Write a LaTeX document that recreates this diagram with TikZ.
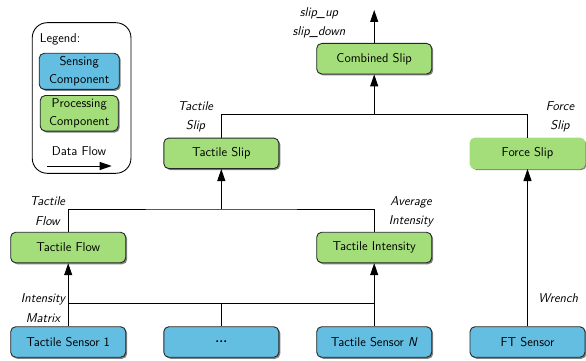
\documentclass[tikz,border=0pt]{standalone}
\usetikzlibrary{arrows.meta,shadows}
\renewcommand{\familydefault}{\sfdefault}
\definecolor{sensblue}{RGB}{99,190,226}
\definecolor{procgreen}{RGB}{164,222,122}
\begin{document}
\begin{tikzpicture}[x=1pt,y=-1pt,
  font=\fontsize{12.8}{14}\selectfont,
  line width=0.9pt,
  box/.style={rounded corners=5pt, minimum width=115pt, minimum height=30.5pt,
    draw=black!85, line width=0.9pt, align=center,
    drop shadow={shadow xshift=1.5pt, shadow yshift=-1.5pt, fill=black!70, opacity=0.7}},
  sens/.style={box, fill=sensblue},
  proc/.style={box, fill=procgreen},
  lbl/.style={font=\fontsize{12.8}{19.5}\selectfont\itshape, align=center},
  flow/.style={-{Triangle[length=12pt,width=8pt]}}]
\useasboundingbox (0,0) rectangle (586,361);

% legend
\node[draw, rounded corners=15pt, line width=0.9pt, minimum width=98.7pt, minimum height=150.6pt] (legend) at (81.6,98) {};
\node[anchor=west] (legtitle) at (36,39) {Legend:};
\node[sens, minimum width=80pt, minimum height=36pt, font=\fontsize{12.8}{17.5}\selectfont] (lsens) at (79.2,71.3) {Sensing\\Component};
\node[proc, minimum width=78pt, minimum height=35pt, font=\fontsize{12.8}{17.5}\selectfont] (lproc) at (79.2,113.3) {Processing\\Component};
\node (ldf) at (79,151) {Data Flow};
\coordinate (la) at (47.3,166);
\coordinate (lb) at (111.7,166);
\draw[flow] (la) -- (lb);

% components
\node[proc] (comb) at (374.2,58.7) {Combined Slip};
\node[proc] (tslip) at (221.3,153.3) {Tactile Slip};
\node[proc, draw=procgreen] (fslip) at (527.5,153.3) {Force Slip};
\node[proc] (tflow) at (68.2,247.5) {Tactile Flow};
\node[proc] (tint) at (374.2,247.5) {Tactile Intensity};
\node[sens] (ts1) at (68.2,342) {Tactile Sensor 1};
\node[sens] (tsd) at (221.3,342) {\textbf{...}};
\node[sens] (tsn) at (374.2,342) {Tactile Sensor \textit{N}};
\node[sens] (ft) at (527.5,342) {FT Sensor};

% connectors
\coordinate (out) at (374.2,10);
\coordinate (j1) at (374.2,114.3);
\coordinate (j2) at (221.3,209);
\coordinate (j3l) at (68.2,303);
\coordinate (j3r) at (374.2,303);

\draw[flow] (comb.north) -- (out);
\draw (tslip.north) |- (j1) -| (fslip.north);
\draw[flow] (j1) -- (comb.south);
\draw (tflow.north) |- (j2) -| (tint.north);
\draw[flow] (j2) -- (tslip.south);
\draw (j3l) -- (j3r);
\draw (tsd.north) -- (tsd.north |- j3l);
\draw[flow] (ts1.north) -- (tflow.south);
\draw[flow] (tsn.north) -- (tint.south);
\draw[flow] (ft.north) -- (fslip.south);

% labels
\node[lbl] (lout) at (319,23) {slip\_up\\slip\_down};
\node[lbl] (ltslip) at (195.5,117) {Tactile\\Slip};
\node[lbl] (lfslip) at (560,117) {Force\\Slip};
\node[lbl] (ltflow) at (47.5,211) {Tactile\\Flow};
\node[lbl] (ltint) at (411,212) {Average\\Intensity};
\node[lbl] (lmat) at (43,308) {Intensity\\Matrix};
\node[lbl] (lwr) at (558.3,298) {Wrench};
\end{tikzpicture}
\end{document}
